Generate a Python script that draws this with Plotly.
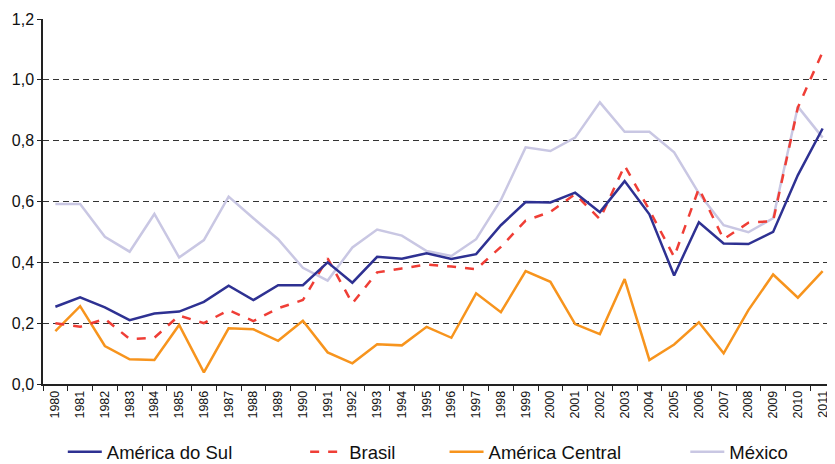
import plotly.graph_objects as go

years = [str(y) for y in range(1980, 2012)]

america_do_sul = [0.254, 0.285, 0.252, 0.210, 0.232, 0.238, 0.270, 0.323, 0.276, 0.325,
                  0.325, 0.400, 0.333, 0.418, 0.412, 0.430, 0.411, 0.427, 0.522, 0.598,
                  0.597, 0.629, 0.565, 0.667, 0.558, 0.357, 0.532, 0.462, 0.460, 0.500,
                  0.687, 0.840]
brasil = [0.200, 0.188, 0.214, 0.148, 0.152, 0.225, 0.200, 0.243, 0.207, 0.249,
          0.276, 0.413, 0.265, 0.367, 0.380, 0.393, 0.386, 0.377, 0.451, 0.537,
          0.566, 0.624, 0.542, 0.718, 0.572, 0.418, 0.643, 0.476, 0.530, 0.536,
          0.909, 1.092]
america_central = [0.174, 0.256, 0.125, 0.081, 0.079, 0.194, 0.038, 0.183, 0.180, 0.142,
                   0.208, 0.104, 0.068, 0.131, 0.127, 0.188, 0.152, 0.298, 0.236, 0.371,
                   0.336, 0.197, 0.164, 0.345, 0.079, 0.130, 0.203, 0.101, 0.243, 0.360,
                   0.284, 0.371]
mexico = [0.592, 0.592, 0.484, 0.435, 0.559, 0.416, 0.473, 0.616, 0.545, 0.476,
          0.382, 0.340, 0.449, 0.508, 0.488, 0.437, 0.421, 0.476, 0.605, 0.778,
          0.766, 0.810, 0.926, 0.829, 0.829, 0.762, 0.627, 0.522, 0.499, 0.545,
          0.912, 0.810]

y_ticks = [0.0, 0.2, 0.4, 0.6, 0.8, 1.0, 1.2]

series = [
    ("América do Sul", america_do_sul, "#2E3192", "solid"),
    ("Brasil", brasil, "#EF3E36", "dash"),
    ("América Central", america_central, "#F7941D", "solid"),
    ("México", mexico, "#C9C7E3", "solid"),
]

legend_ids = ["legend", "legend2", "legend3", "legend4"]
legend_x = [0.025, 0.331, 0.507, 0.811]

fig = go.Figure()
order = [3, 2, 1, 0]
for i in order:
    name, vals, color, dash = series[i]
    fig.add_trace(go.Scatter(
        x=years, y=vals, name=name, mode="lines",
        line=dict(color=color, width=2.5, dash=dash),
        legend=legend_ids[i],
    ))

legend_common = dict(orientation="h", yref="container", y=0.026, yanchor="middle",
                     xanchor="left", font=dict(size=18.5, color="#111"), itemwidth=34,
                     bgcolor="rgba(0,0,0,0)")
layout_legends = {lid: dict(legend_common, x=lx) for lid, lx in zip(legend_ids, legend_x)}

# the page adds an 8px body margin, so the figure is sized/offset to compensate
fig.update_layout(
    width=827, height=456,
    margin=dict(l=35, r=0, t=11, b=80),
    paper_bgcolor="white", plot_bgcolor="white",
    separators=", ",
    font=dict(family="Liberation Sans, Arial, sans-serif", size=14, color="#111"),
    showlegend=True,
    **layout_legends,
)
fig.update_xaxes(
    type="category", tickangle=-90, tickson="boundaries",
    ticks="outside", ticklen=5, tickcolor="#222",
    showline=True, linecolor="#222", linewidth=1.5,
    showgrid=False, tickfont=dict(size=12.5),
    range=[-0.5, 31.5], automargin=False,
)
fig.update_yaxes(
    range=[0, 1.2], tickvals=y_ticks, tickformat=".1f",
    ticks="outside", ticklen=4, tickcolor="#222",
    showline=True, linecolor="#222", linewidth=1.5,
    showgrid=True, gridcolor="#333", griddash="6px,4px", gridwidth=1,
    zeroline=False, tickfont=dict(size=16), automargin=False,
)

fig.write_html("out.html")
